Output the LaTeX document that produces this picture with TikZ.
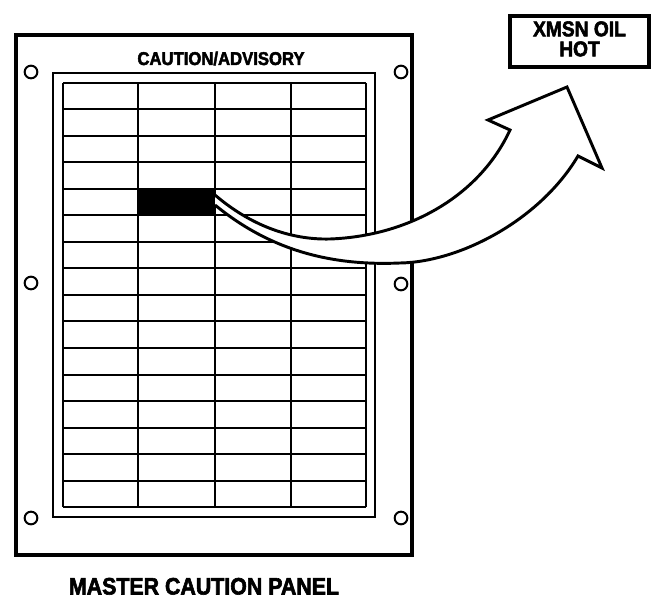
\documentclass[tikz,border=0pt]{standalone}
\usepackage{fontspec}
\newfontfamily\hv{Liberation Sans}[FakeStretch=0.9,FakeBold=2.5]
\begin{document}
\begin{tikzpicture}[x=0.75pt,y=-0.75pt,
  panelborder/.style={line width=2.6pt},
  frameline/.style={line width=1.1pt},
  gridline/.style={line width=1.5pt},
  hole/.style={circle,draw,line width=1.5pt,minimum size=9.5pt,inner sep=0pt},
  bigarrow/.style={fill=white,draw,line width=2.2pt,line join=miter},
  labelbox/.style={draw,line width=2.6pt,minimum width=104.25pt,minimum height=38.25pt,
    inner sep=0pt,align=center,text depth=4pt,
    font=\hv\bfseries\fontsize{16}{15}\selectfont}
]
\useasboundingbox (0,0) rectangle (654,599);
% outer panel and inner frame
\draw[panelborder] (16,35) rectangle (412,555);
\draw[frameline] (53,73) rectangle (375,517);
% grid of lamps
\foreach \i in {0,...,16}{
  \pgfmathsetmacro{\yy}{83+26.5*\i}
  \draw[gridline] (63,\yy) -- (366,\yy);
}
\foreach \xx in {63,138,215,291,366}{
  \draw[gridline] (\xx,83) -- (\xx,507);
}
% lit lamp
\fill (138,189) rectangle (215,215.5);
% screw holes
\node[hole] (h1) at (31,72) {};
\node[hole] (h2) at (401,72) {};
\node[hole] (h3) at (31,283) {};
\node[hole] (h4) at (401,284) {};
\node[hole] (h5) at (31,518) {};
\node[hole] (h6) at (401,518) {};
% heading
\node[anchor=base,inner sep=0pt] (title) at (221,65) {\hv\bfseries\fontsize{13.9}{14}\selectfont CAUTION/ADVISORY};
% curved block arrow
\path[bigarrow] (215,195) .. controls (250,225) and (290,240) .. (330,239)
  .. controls (410,236) and (480,195) .. (510,130)
  -- (488,120) -- (567,87) -- (602,168) -- (578,156)
  .. controls (540,220) and (460,262) .. (400,263)
  .. controls (330,266) and (270,250) .. (215,205);
% enlarged legend
\node[labelbox] (label) at (579.5,41.5) {XMSN OIL\\HOT};
% caption
\node[anchor=base,inner sep=0pt] (caption) at (204,594.5) {\hv\bfseries\fontsize{17.8}{18}\selectfont MASTER CAUTION PANEL};
\end{tikzpicture}
\end{document}
